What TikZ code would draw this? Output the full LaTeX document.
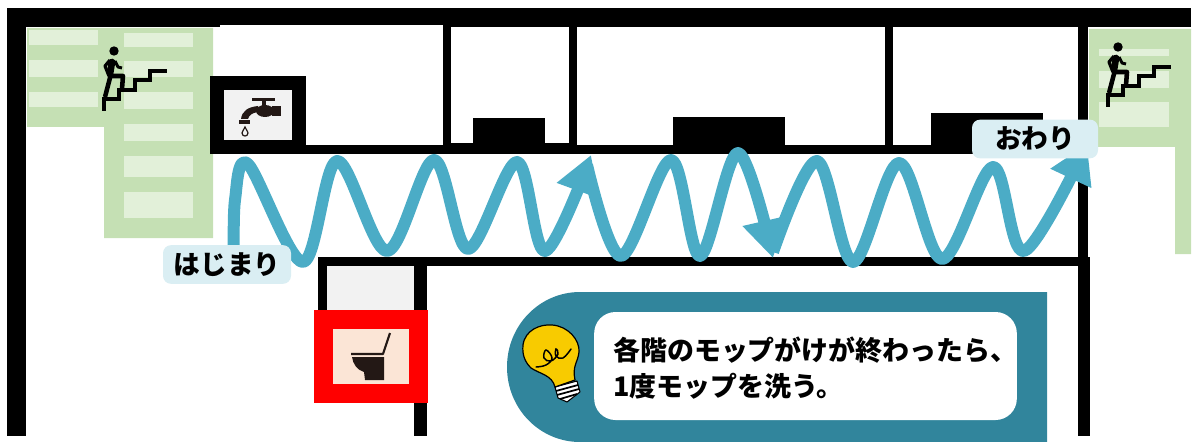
\documentclass[tikz,border=0pt]{standalone}
\usepackage{fontspec}
\newfontfamily\cjk{Noto Sans CJK JP}
\usetikzlibrary{arrows.meta}
\definecolor{stairgreen}{HTML}{C5E0B4}
\definecolor{steplight}{HTML}{E2F0D9}
\definecolor{wavecolor}{HTML}{4BACC6}
\definecolor{labelblue}{HTML}{DAEEF3}
\definecolor{notecolor}{HTML}{31859C}
\definecolor{roomgrey}{HTML}{F2F2F2}
\definecolor{toiletpink}{HTML}{FBE5D6}
\definecolor{icondark}{HTML}{231815}
\tikzset{
	wall/.style={fill=black},
	wave/.style={draw=wavecolor, line width=9pt, line join=round},
	wavetip/.style={-{Triangle[length=28.5pt, width=32pt]}},
	labelbox/.style={fill=labelblue, rounded corners=6pt, minimum height=29pt, font=\cjk\bfseries\fontsize{20pt}{24pt}\selectfont},
	climber/.pic={
		\fill (114,51) circle (4.7);
		\draw[line width=5pt, line cap=round] (112,62)--(110,74);
		\draw[line width=2.4pt, line join=round] (110,60)--(105,66)--(109,76);
		\draw[line width=2.2pt, line join=round] (115,61)--(118,67)--(122,68);
		\draw[line width=3.4pt] (111,74)--(105,97);
		\draw[line width=3.4pt, line join=round] (111,76)--(123,76)--(122,89);
		\draw[line width=2.8pt] (104,111)--(104,99)--(119,99)--(119,90)--(135,90)--(135,80)--(150,80)--(150,71)--(167,71);
	}
}
\begin{document}
\begin{tikzpicture}[x=0.75pt, y=-0.75pt]
	\useasboundingbox (0,0) rectangle (1198,442);
	%stairs on the left
	\fill[stairgreen] (27,28)--(213,28)--(213,238)--(104,238)--(104,127)--(27,127)--cycle;
	\foreach \a/\b in {30/45, 60/77, 92/107}{
		\fill[steplight] (29,\a) rectangle (98,\b);
	}
	\foreach \a/\b in {33/47, 61/77, 92/109, 124/141, 156/177, 192/218}{
		\fill[steplight] (124,\a) rectangle (193,\b);
	}
	%stairs on the right
	\fill[stairgreen] (1089,29)--(1191,29)--(1191,254)--(1175,254)--(1175,147)--(1089,147)--cycle;
	\foreach \a/\b in {49/56, 71/88, 102/127}{
		\fill[steplight] (1099,\a) rectangle (1169,\b);
	}
	\pic at (0,0) {climber};
	\pic at (1004,-4) {climber};

	%outer walls
	\fill[wall] (7,8) rectangle (1191,25.5);
	\fill[wall] (7,8) rectangle (220,27);
	\fill[wall] (443,8) rectangle (1191,27);
	\fill[wall] (7,8) rectangle (26,436);
	\fill[wall] (1078,27) rectangle (1088,257);
	\fill[wall] (1078,257) rectangle (1090,436);
	%corridor walls
	\fill[wall] (306,145) rectangle (1078,154);
	\fill[wall] (451,143) rectangle (569,145);
	\fill[wall] (318,257) rectangle (1090,266);
	\fill[wall] (318,257) rectangle (327,310);
	\fill[wall] (414,266) rectangle (427,436);
	\foreach \x in {443, 569, 885}{
		\fill[wall] (\x,27) rectangle (\x+8,145);
	}
	\fill[wall] (473,118) rectangle (545,145);
	\fill[wall] (673,117) rectangle (785,145);
	\fill[wall] (931,113) rectangle (1043,145);

	%sink
	\fill[wall] (210,76) rectangle (306,154);
	\fill[roomgrey] (224,90) rectangle (292,140);
	\fill[icondark] (252,98) rectangle (275,101);
	\fill[icondark] (262,100) rectangle (266,107);
	\fill[icondark] (265,111) ellipse (9 and 6);
	\fill[icondark] (272,106) rectangle (281,116);
	\fill[icondark] (258,106) .. controls (248,107) and (242,111) .. (241,119) -- (248,119) .. controls (249,115) and (252,113) .. (258,112) -- cycle;
	\fill[icondark] (239,120) rectangle (250,124);
	\draw[icondark, line width=0.9pt] (245,127) .. controls (243,131) and (242,132) .. (242,133) .. controls (242,137) and (248,137) .. (248,133) .. controls (248,132) and (247,131) .. (245,127) -- cycle;

	%toilet
	\fill[roomgrey] (327,266) rectangle (414,310);
	\fill[red] (314,310) rectangle (428,403);
	\fill[toiletpink] (333,329) rectangle (409,384);
	\draw[icondark, line width=1.6pt, line join=round] (351,354)--(383,354)--(390,333);
	\fill[icondark] (352,357)--(384,357)--(384,380)--(365,380)--(364,372) .. controls (357,370) and (353,364) .. (352,357) -- cycle;

	%note
	\fill[notecolor] (1047,292)--(580,292) .. controls (540,292) and (507,325) .. (507,367) .. controls (507,409) and (540,442) .. (580,442)--(1047,442)--cycle;
	\node (notebox) at (805.5,366) [fill=white, rounded corners=16pt, minimum width=317pt, minimum height=81pt]{};
	\node (notetext) at (613,368) [anchor=west, align=left, inner sep=0pt, font=\cjk\bfseries\fontsize{20.2pt}{27pt}\selectfont]{各階のモップがけが終わったら、\\1度モップを洗う。};

	%light bulb
	\fill[white] (555,387)--(577,381)--(580,392)--(567,402)--(558,398)--cycle;
	\draw[line width=0.8pt, line join=round] (555,387)--(577,381)--(580,392)--(567,402)--(558,398)--cycle;
	\draw[line width=1.3pt] (556,391)--(578,385);
	\draw[line width=1.3pt] (557,395)--(579,389);
	\draw[line width=1.3pt] (560,399)--(577,394);
	\draw[fill={rgb,255:red,248;green,203;blue,0}, line width=0.9pt] (523,345) .. controls (525,330) and (540,324) .. (552,325) .. controls (568,326) and (580,340) .. (579,352) .. controls (578,362) and (572,366) .. (575,380) -- (555,387) .. controls (552,375) and (540,374) .. (531,368) .. controls (525,362) and (522,355) .. (523,345) -- cycle;
	\draw[line width=1.1pt, line cap=round] plot[smooth, tension=0.7] coordinates {(536,367) (546,365) (552,358) (546,350) (544,358) (551,361) (558,354) (556,349) (556,356) (563,358) (571,349)};

	%mop route
	\draw[wave, wavetip] plot[smooth, tension=0.55] coordinates {(234,262) (235,200) (248,164) (303,262) (337,161) (387,251) (434,160) (468,249) (517,162) (545,251) (591,155)};
	\draw[wave, wavetip] plot[smooth, tension=0.55] coordinates {(587,165) (621,256) (671,160) (700,256) (738,153) (773,258)};
	\draw[wave, wavetip] plot[smooth, tension=0.55] coordinates {(773,252) (817,161) (853,262) (899,163) (942,259) (993,167) (1024,251) (1087,144)};

	%labels
	\node (startlabel) at (227,264.5) [labelbox, minimum width=96pt]{はじまり};
	\node (endlabel) at (1035,139) [labelbox, minimum width=94.5pt]{おわり};
\end{tikzpicture}
\end{document}
